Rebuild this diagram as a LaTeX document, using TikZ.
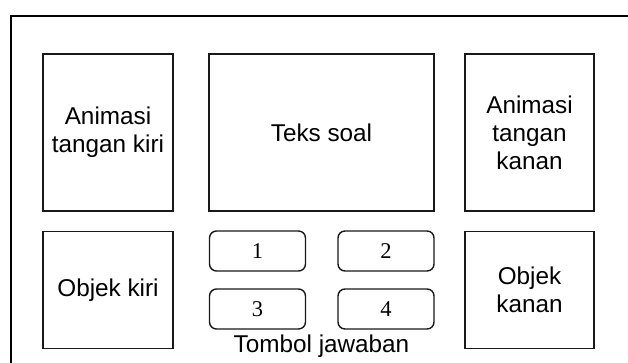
\documentclass[tikz,border=0pt]{standalone}
\usepackage{fontspec}
\setmainfont{Liberation Sans}
\newfontfamily\serifdigits{Liberation Serif}
\begin{document}
\begin{tikzpicture}[x=1pt,y=-1pt,
  panel/.style={draw=black!90, line width=1.4pt, inner sep=0pt, align=center,
    font=\fontsize{24.3}{28}\selectfont},
  answer/.style={draw=black!90, line width=1.4pt, inner sep=0pt, rounded corners=7pt,
    minimum width=96pt, minimum height=40pt, font=\serifdigits\fontsize{22.5}{25}\selectfont},
  caption/.style={inner sep=0pt, font=\fontsize{24.3}{28}\selectfont}]
\useasboundingbox (0,0) rectangle (628,363);
\clip (0,0) rectangle (628,363);
\fill[white] (0,0) rectangle (628,363);
\coordinate (ftl) at (11,16);
\coordinate (fbr) at (650,390);
\draw[line width=2.4pt] (ftl) rectangle (fbr);
\node[panel, minimum width=130pt, minimum height=157pt] (ak) at (108,132.5) {Animasi\\tangan kiri};
\node[panel, minimum width=225pt, minimum height=157pt] (ts) at (321.5,132.5) {Teks soal};
\node[panel, minimum width=129pt, minimum height=157pt] (akn) at (529.5,132.5) {Animasi\\tangan\\kanan};
\node[panel, minimum width=130pt, minimum height=117pt] (ok) at (108,290) {Objek kiri};
\node[panel, minimum width=129pt, minimum height=117pt] (okn) at (529.5,290) {Objek\\kanan};
\node[answer] (b1) at (257.5,251) {1};
\node[answer] (b2) at (386,251) {2};
\node[answer] (b3) at (257.5,309) {3};
\node[answer] (b4) at (386,309) {4};
\node[caption, anchor=base] (tj) at (321.5,352) {Tombol jawaban};
\end{tikzpicture}
\end{document}
